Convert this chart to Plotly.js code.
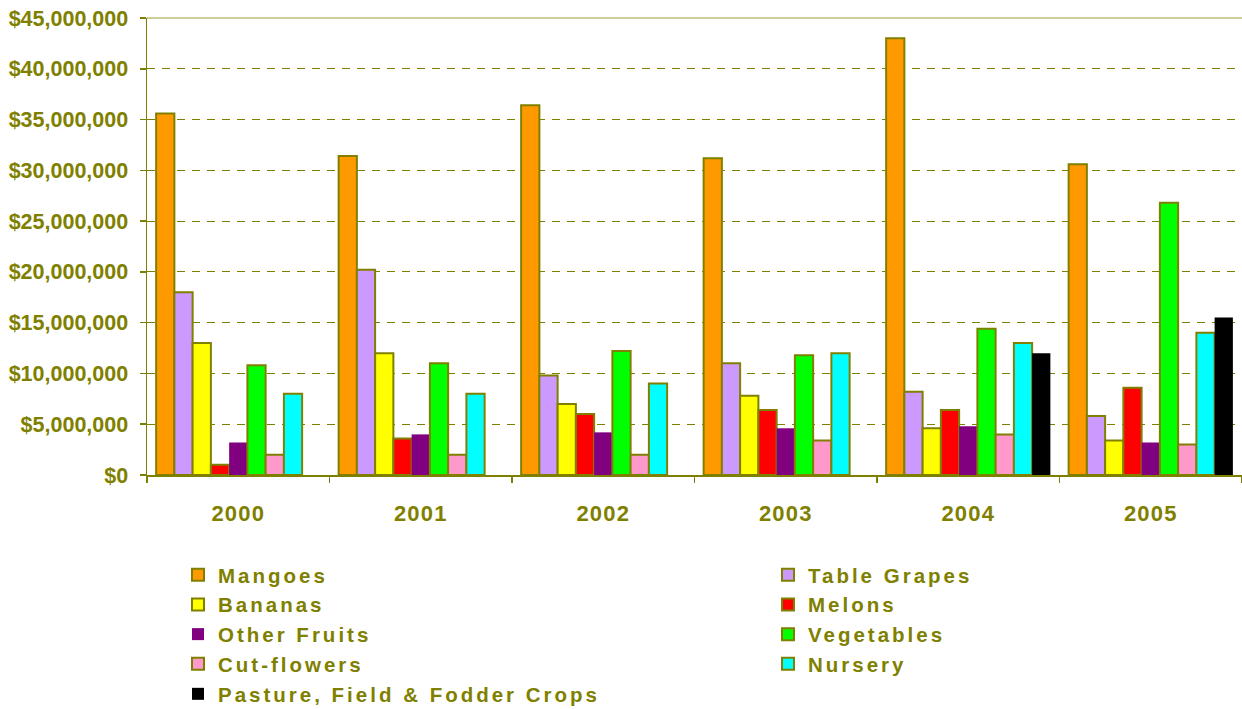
<!DOCTYPE html>
<html>
<head>
<meta charset="utf-8">
<script src="https://cdn.plot.ly/plotly-3.0.1.min.js"></script>
<style>
html,body{margin:0;padding:0;background:#fff;}
#chart{width:1242px;height:709px;}
text.legendtext, .infolayer text{letter-spacing:3px;}
.xtick text{letter-spacing:1.2px;}
</style>
</head>
<body>
<div id="chart"></div>
<script>
const years = ['2000','2001','2002','2003','2004','2005'];
const seriesNames = ['Mangoes','Table Grapes','Bananas','Melons','Other Fruits','Vegetables','Cut-flowers','Nursery','Pasture, Field & Fodder Crops'];
const mangoes     = [35600000, 31400000, 36400000, 31200000, 43000000, 30600000];
const tableGrapes = [18000000, 20200000,  9800000, 11000000,  8200000,  5800000];
const bananas     = [13000000, 12000000,  7000000,  7800000,  4600000,  3400000];
const melons      = [ 1000000,  3600000,  6000000,  6400000,  6400000,  8600000];
const otherFruits = [ 3200000,  4000000,  4200000,  4600000,  4800000,  3200000];
const vegetables  = [10800000, 11000000, 12200000, 11800000, 14400000, 26800000];
const cutFlowers  = [ 2000000,  2000000,  2000000,  3400000,  4000000,  3000000];
const nursery     = [ 8000000,  8000000,  9000000, 12000000, 13000000, 14000000];
const pasture     = [null, null, null, null, 12000000, 15500000];
const yTicks = [0,5e6,10e6,15e6,20e6,25e6,30e6,35e6,40e6,45e6];
const yTickLabels = ['$0','$5,000,000','$10,000,000','$15,000,000','$20,000,000','$25,000,000','$30,000,000','$35,000,000','$40,000,000','$45,000,000'];

const values = [mangoes, tableGrapes, bananas, melons, otherFruits, vegetables, cutFlowers, nursery, pasture];
const colors = ['#FF9900','#CC99FF','#FFFF00','#FF0000','#800080','#00FF00','#FF99CC','#00FFFF','#000000'];
const outlined = [true,true,true,true,false,true,true,true,false];
const legendCol = ['legend','legend2','legend','legend2','legend','legend2','legend','legend2','legend3'];
const olive = '#808000';
const font = '"Liberation Sans", Arial, sans-serif';

const traces = seriesNames.map((n,i)=>({
  type:'bar', name:n, x:years, y:values[i],
  legend: legendCol[i],
  marker:{color:colors[i], line:{color: outlined[i]?olive:colors[i], width: outlined[i]?2:0}},
  hoverinfo:'none'
}));

// plot area: x 147..1242, y 18..475
const px2x = p => (p-147)/1095;
const px2y = p => (475-p)/457;
const legendFont = {family:font, size:20.5, color:olive, weight:'bold'};
const mkLegend = (xp, yp) => ({
  orientation:'v', xref:'paper', yref:'paper',
  x:px2x(xp), xanchor:'left', y:px2y(yp), yanchor:'top',
  font:legendFont, bgcolor:'rgba(0,0,0,0)', traceorder:'normal', tracegroupgap:0
});
const layout = {
  width:1242, height:709,
  margin:{l:147, r:0, t:18, b:234, pad:0, autoexpand:false},
  paper_bgcolor:'#fff', plot_bgcolor:'#fff',
  barmode:'group', bargap:0.1, bargroupgap:0,
  font:{family:font, color:olive},
  showlegend:true,
  xaxis:{
    type:'category', showgrid:false, zeroline:false,
    showline:true, linecolor:olive, linewidth:1.5,
    ticks:'outside', tickson:'boundaries', ticklen:6, tickcolor:olive, tickwidth:1.5,
    tickfont:{family:font, size:22, color:olive, weight:'bold'},
    tickangle:0, ticklabelstandoff:18
  },
  yaxis:{
    range:[0,45e6], tickvals:yTicks, ticktext:yTickLabels,
    showgrid:true, gridcolor:olive, gridwidth:1.2, griddash:'8px,7px',
    zeroline:false, showline:true, linecolor:olive, linewidth:1.5,
    ticks:'outside', ticklen:6, tickcolor:olive, tickwidth:1.5,
    tickfont:{family:font, size:21.5, color:olive, weight:'bold'},
    ticklabelstandoff:7
  },
  legend: mkLegend(178, 555),
  legend2: mkLegend(768, 555),
  legend3: mkLegend(178, 674),
  shapes:[{type:'line', xref:'paper', yref:'paper', x0:0, x1:1, y0:1, y1:1, line:{color:'#BDBD7A', width:1.5}}]
};

Plotly.newPlot('chart', traces, layout, {staticPlot:true}).then(gd => {
  // keep widened legend labels from being clipped
  gd.querySelectorAll('.infolayer [clip-path]').forEach(n => n.removeAttribute('clip-path'));
});
</script>
</body>
</html>
